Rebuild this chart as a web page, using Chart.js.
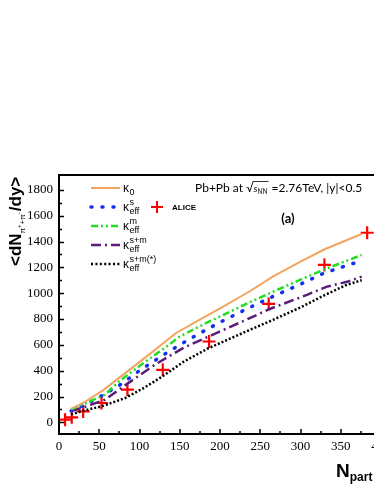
<!DOCTYPE html>
<html><head><meta charset="utf-8">
<script src="https://cdn.jsdelivr.net/npm/chart.js@4.4.1/dist/chart.umd.min.js"></script>
<style>
html,body{margin:0;padding:0;background:#fff;overflow:hidden;width:374px;height:484px;}
#wrap{position:absolute;left:0;top:0;width:400px;height:484px;}
</style></head><body>
<div id="wrap"><canvas id="c" width="400" height="484"></canvas></div>
<script>
// ---- data ----
const aliceN = [7.5, 15.8, 30, 52.8, 85, 128.9, 186.4, 260.5, 329.7, 382.8];
const aliceV = [21, 39, 85, 150, 253, 407, 626, 917, 1219, 1468];

const k0N = [15, 30, 55, 85, 115, 145, 175, 205, 237, 266, 300, 330, 376];
const k0V = [105, 150, 250, 395, 540, 690, 795, 900, 1015, 1130, 1245, 1340, 1458];

const kmN = [15, 30, 57, 75, 102, 131, 150, 175, 200, 237, 266, 300, 330, 376];
const kmV = [100, 140, 214, 320, 446, 575, 665, 745, 820, 930, 1012, 1105, 1185, 1296];

const ksN = [15, 30, 45, 73, 100, 129, 150, 175, 200, 237, 266, 300, 330, 376];
const ksV = [90, 130, 178, 278, 400, 520, 600, 690, 775, 890, 975, 1070, 1158, 1252];

const ksmN = [15, 30, 57, 85, 119, 154, 185, 237, 261, 308, 333, 359, 376];
const ksmV = [88, 115, 175, 300, 446, 575, 662, 807, 876, 987, 1051, 1090, 1128];

const ksmsN = [15, 30, 53, 82, 105, 127, 155, 185, 237, 266, 300, 330, 357, 376];
const ksmsV = [62, 90, 124, 188, 265, 350, 470, 572, 716, 794, 890, 985, 1064, 1100];

const yTicks = [0, 200, 400, 600, 800, 1000, 1200, 1400, 1600, 1800];
const xTicks = [0, 50, 100, 150, 200, 250, 300, 350, 400];

const pts = (xs, ys) => xs.map((x, i) => ({x: x, y: ys[i]}));

const styles = {
  k0:   {color: '#F4A460', dash: [], width: 2, cap: 'butt'},
  ks:   {color: '#1030F0', dash: [1, 10], width: 3.5, cap: 'round'},
  km:   {color: '#22DD22', dash: [7, 3, 2, 3, 2, 3], width: 2.5, cap: 'butt'},
  ksm:  {color: '#5A1E78', dash: [10, 4, 2, 4], width: 2.5, cap: 'butt'},
  ksms: {color: '#000000', dash: [2, 2], width: 2.5, cap: 'butt'}
};

function lineDs(label, xs, ys, st) {
  return {label: label, data: pts(xs, ys), showLine: true, pointRadius: 0,
    borderColor: st.color, backgroundColor: st.color, borderWidth: st.width,
    borderDash: st.dash, borderCapStyle: st.cap, tension: 0, fill: false};
}

const serif = 'Liberation Serif';

const decor = {
  id: 'decor',
  afterDraw(chart) {
    const ctx = chart.ctx, a = chart.chartArea;
    const xs = chart.scales.x, ys = chart.scales.y;
    ctx.save();
    ctx.strokeStyle = '#000'; ctx.fillStyle = '#000';
    // axes frame
    ctx.lineWidth = 2;
    ctx.beginPath();
    ctx.moveTo(a.left, a.top); ctx.lineTo(a.right, a.top);
    ctx.moveTo(a.left, a.top - 1); ctx.lineTo(a.left, a.bottom + 1);
    ctx.moveTo(a.left - 1, a.bottom); ctx.lineTo(a.right, a.bottom);
    ctx.stroke();
    // ticks
    ctx.lineWidth = 1.5;
    ctx.beginPath();
    for (let v = 0; v <= 1800; v += 100) {
      const y = Math.round(ys.getPixelForValue(v)) + 0.5;
      const len = (v % 200 === 0) ? 5 : 3;
      ctx.moveTo(a.left, y); ctx.lineTo(a.left + len, y);
    }
    for (let v = 0; v <= 400; v += 25) {
      const x = Math.round(xs.getPixelForValue(v));
      const len = (v % 50 === 0) ? 5 : 3;
      ctx.moveTo(x, a.bottom); ctx.lineTo(x, a.bottom - len);
    }
    ctx.stroke();

    // legend
    const rows = [
      {st: styles.k0, y: 188, sub: '0', sup: ''},
      {st: styles.ks, y: 207, sub: 'eff', sup: 's'},
      {st: styles.km, y: 226, sub: 'eff', sup: 'm'},
      {st: styles.ksm, y: 245, sub: 'eff', sup: 's+m'},
      {st: {color: '#000', dash: [2, 2.4], width: 2.5, cap: 'butt'}, y: 264, sub: 'eff', sup: 's+m(*)'}
    ];
    rows.forEach(r => {
      ctx.save();
      ctx.strokeStyle = r.st.color; ctx.lineWidth = r.st.width;
      ctx.setLineDash(r.st.dash); ctx.lineCap = r.st.cap;
      ctx.beginPath(); ctx.moveTo(91, r.y); ctx.lineTo(120, r.y); ctx.stroke();
      ctx.restore();
      ctx.fillStyle = '#000';
      ctx.textBaseline = 'alphabetic';
      ctx.font = '12px "Liberation Sans"';
      ctx.fillText('κ', 123, r.y + 4);
      const w = ctx.measureText('κ').width;
      ctx.font = '9px "Liberation Sans"';
      ctx.fillText(r.sub, 123 + w + 0.5, r.y + 7);
      if (r.sup) ctx.fillText(r.sup, 123 + w + 0.5, r.y - 2);
    });
    // ALICE legend entry
    ctx.strokeStyle = '#FF0000'; ctx.lineWidth = 2; ctx.setLineDash([]);
    ctx.beginPath();
    ctx.moveTo(151, 207); ctx.lineTo(163, 207);
    ctx.moveTo(157, 201); ctx.lineTo(157, 213);
    ctx.stroke();
    ctx.fillStyle = '#000';
    ctx.font = 'bold 8px "Liberation Sans"';
    ctx.fillText('ALICE', 172, 210);

    // title text
    let x = 195; const by = 192;
    ctx.font = '12px Lato';
    ctx.fillText('Pb+Pb at ', x, by); x += ctx.measureText('Pb+Pb at ').width;
    ctx.fillText('√', x, by); x += ctx.measureText('√').width;
    const ox = x;
    ctx.font = 'italic 10px Lato';
    ctx.fillText('s', x, by); x += ctx.measureText('s').width;
    ctx.font = 'italic 7px Lato';
    ctx.fillText('NN', x, by + 2); x += ctx.measureText('NN').width + 1;
    ctx.lineWidth = 0.8;
    ctx.strokeStyle = '#000';
    ctx.beginPath(); ctx.moveTo(ox - 1, by - 10.5); ctx.lineTo(x, by - 10.5); ctx.stroke();
    ctx.font = '12px Lato';
    ctx.fillText(' =2.76TeV, |y|<0.5', x, by);
    // (a)
    ctx.font = 'bold 13px Lato';
    ctx.textAlign = 'center';
    ctx.fillText('(a)', 288, 223);
    ctx.textAlign = 'left';

    // y title
    ctx.save();
    ctx.translate(21, 266);
    ctx.rotate(-Math.PI / 2);
    let t = 0;
    ctx.font = 'bold 17px "Liberation Sans"';
    ctx.fillText('<dN', t, 0); t += ctx.measureText('<dN').width;
    ctx.font = '8px "Liberation Sans"';
    ctx.fillText('π', t, 4); t += ctx.measureText('π').width;
    ctx.font = '6px "Liberation Sans"';
    ctx.fillText('+', t, 0); t += ctx.measureText('+').width;
    ctx.font = '8px "Liberation Sans"';
    ctx.fillText('+π', t, 4); t += ctx.measureText('+π').width;
    ctx.font = '6px "Liberation Sans"';
    ctx.fillText('-', t, 0); t += ctx.measureText('-').width + 1;
    ctx.font = 'bold 17px "Liberation Sans"';
    ctx.fillText('/dy>', t, 0);
    ctx.restore();

    // x title
    ctx.font = 'bold 19px "Liberation Sans"';
    ctx.fillText('N', 336, 477);
    const nw = ctx.measureText('N').width;
    ctx.font = 'bold 12px "Liberation Sans"';
    ctx.fillText('part', 336 + nw, 481);
    ctx.restore();
  }
};

new Chart(document.getElementById('c'), {
  type: 'scatter',
  data: {
    datasets: [
      lineDs('k0', k0N, k0V, styles.k0),
      lineDs('km', kmN, kmV, styles.km),
      lineDs('ks', ksN, ksV, styles.ks),
      lineDs('ksm', ksmN, ksmV, styles.ksm),
      lineDs('ksms', ksmsN, ksmsV, styles.ksms),
      {label: 'ALICE', data: pts(aliceN, aliceV), showLine: false,
        pointStyle: 'cross', pointRadius: 6.5, borderWidth: 2.2,
        borderColor: '#FF0000', backgroundColor: '#FF0000'}
    ]
  },
  options: {
    responsive: false, animation: false, devicePixelRatio: 1,
    layout: {padding: {left: 0, top: 175, right: 19, bottom: 20}},
    plugins: {legend: {display: false}, tooltip: {enabled: false}, title: {display: false}},
    scales: {
      x: {
        type: 'linear', min: 0, max: 400,
        afterBuildTicks: s => { s.ticks = xTicks.map(v => ({value: v})); },
        afterFit: s => { s.height = 30; s.paddingLeft = 0; s.paddingRight = 0; },
        ticks: {font: {family: serif, size: 13}, color: '#000', padding: 5,
          maxRotation: 0, autoSkip: false, callback: v => String(v)},
        grid: {display: false, drawTicks: false}, border: {display: false}
      },
      y: {
        type: 'linear', min: -90, max: 1915,
        afterBuildTicks: s => { s.ticks = yTicks.map(v => ({value: v})); },
        afterFit: s => { s.width = 59; s.paddingTop = 0; s.paddingBottom = 0; },
        ticks: {font: {family: serif, size: 13}, color: '#000', padding: 6,
          autoSkip: false, callback: v => String(v)},
        grid: {display: false, drawTicks: false}, border: {display: false}
      }
    }
  },
  plugins: [decor]
});
</script>
</body></html>
